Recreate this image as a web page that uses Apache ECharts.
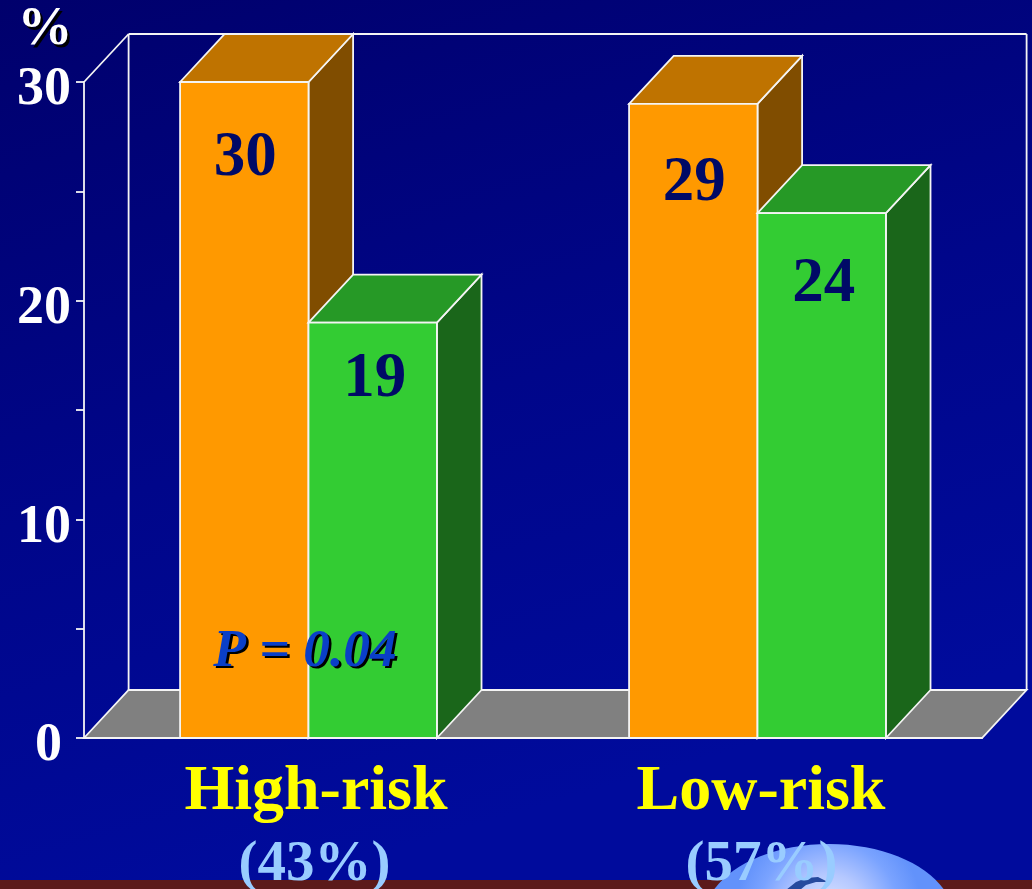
<!DOCTYPE html>
<html>
<head>
<meta charset="utf-8">
<style>html,body{margin:0;padding:0;background:#000a96}#c{width:1032px;height:889px}</style>
<script src="https://cdn.jsdelivr.net/npm/echarts@6/dist/echarts.min.js"></script>
</head>
<body>
<div id="c"></div>
<script>
// Event rates by risk group
const categories = ['High-risk', 'Low-risk'];
const groupShares = ['(43%)', '(57%)'];
const orangeValues = [30, 29];
const greenValues = [19, 24];
const pValueText = 'P = 0.04';
const unitText = '%';

// Look of the extruded columns
const DEPTH_X = 44.6, DEPTH_Y = 48, BAR_SHARE = 0.286;
const SERIF = '"Liberation Serif","Times New Roman",serif';
const EDGE = '#f4f4f4';
const EDGE_W = 1.8;
const NAVY = '#000a66';

function poly(points, fill) {
  return { type: 'polygon', shape: { points }, style: { fill, stroke: EDGE, lineWidth: EDGE_W } };
}

// Builds a renderItem for one column series: side offset -1 or 0 from the band centre.
function columnRenderer(side, front, top, flank, labelDrops, labelShift) {
  return function (params, api) {
    const i = api.value(0);
    const v = api.value(1);
    const [cx, y1] = api.coord([i, v]);
    const [, y0] = api.coord([i, 0]);
    const w = api.size([1, 0])[0] * BAR_SHARE;
    const x0 = cx + side * w;
    const x1 = x0 + w;
    return {
      type: 'group',
      children: [
        poly([[x1, y0], [x1 + DEPTH_X, y0 - DEPTH_Y], [x1 + DEPTH_X, y1 - DEPTH_Y], [x1, y1]], flank),
        poly([[x0, y1], [x0 + DEPTH_X, y1 - DEPTH_Y], [x1 + DEPTH_X, y1 - DEPTH_Y], [x1, y1]], top),
        poly([[x0, y0], [x0, y1], [x1, y1], [x1, y0]], front),
        {
          type: 'text',
          style: {
            x: x0 + w / 2 + labelShift,
            y: y1 + labelDrops[i],
            text: String(v),
            fill: NAVY,
            font: 'bold 63px ' + SERIF,
            align: 'center',
            verticalAlign: 'middle'
          }
        }
      ]
    };
  };
}

// Back wall and floor of the plot box, taken from the grid rectangle.
function renderBox(params) {
  const r = params.coordSys;
  const L = r.x, R = r.x + r.width, T = r.y, B = r.y + r.height;
  const line = (x1, y1, x2, y2) => ({
    type: 'line', shape: { x1, y1, x2, y2 }, style: { stroke: EDGE, lineWidth: EDGE_W }
  });
  return {
    type: 'group',
    children: [
      { type: 'polygon',
        shape: { points: [[L, B], [L + DEPTH_X, B - DEPTH_Y], [R + DEPTH_X, B - DEPTH_Y], [R, B]] },
        style: { fill: '#808080', stroke: EDGE, lineWidth: EDGE_W } },
      line(L + DEPTH_X, T - DEPTH_Y, R + DEPTH_X, T - DEPTH_Y),
      line(L + DEPTH_X, T - DEPTH_Y, L + DEPTH_X, B - DEPTH_Y),
      line(R + DEPTH_X, T - DEPTH_Y, R + DEPTH_X, B - DEPTH_Y),
      line(L, T, L + DEPTH_X, T - DEPTH_Y)
    ]
  };
}

// Text with a hard offset drop shadow, as two stacked elements.
function shadowedText(text, x, y, font, fill) {
  const base = { text, font, align: 'center', verticalAlign: 'middle' };
  return [
    { type: 'text', z: 100, x: x + 2.5, y: y + 2.5, style: Object.assign({ fill: '#000000' }, base) },
    { type: 'text', z: 101, x, y, style: Object.assign({ fill }, base) }
  ];
}

const labelFont = { fontFamily: SERIF, fontWeight: 'bold', lineHeight: 73 };
const chart = echarts.init(document.getElementById('c'), null, { renderer: 'canvas' });

chart.setOption({
  animation: false,
  backgroundColor: {
    type: 'linear', x: 0, y: 0, x2: 0.25, y2: 1,
    colorStops: [{ offset: 0, color: '#00006c' }, { offset: 0.55, color: '#00068a' }, { offset: 1, color: '#000b9c' }]
  },
  grid: { left: 84, top: 82, width: 898, height: 656, containLabel: false, outerBoundsMode: 'none' },
  xAxis: {
    type: 'category',
    data: categories,
    z: 20,
    axisLine: { lineStyle: { color: EDGE, width: EDGE_W } },
    axisTick: { length: 11, lineStyle: { color: EDGE, width: EDGE_W } },
    axisLabel: {
      margin: 18,
      interval: 0,
      formatter: (value, idx) => '{name' + idx + '|' + value + '}\n{share' + idx + '|' + groupShares[idx] + '}',
      rich: {
        name0: Object.assign({ fontSize: 64, color: '#ffff00', padding: [0, 0, 0, 15] }, labelFont),
        share0: Object.assign({ fontSize: 57, color: '#99ccff', padding: [0, 0, 0, 12] }, labelFont),
        name1: Object.assign({ fontSize: 64, color: '#ffff00', padding: [0, 0, 0, 7] }, labelFont),
        share1: Object.assign({ fontSize: 57, color: '#99ccff', padding: [0, 0, 0, 8] }, labelFont)
      }
    }
  },
  yAxis: {
    type: 'value',
    min: 0,
    max: 30,
    interval: 5,
    z: 20,
    axisLine: { show: true, lineStyle: { color: EDGE, width: EDGE_W } },
    axisTick: { show: true, length: 8, lineStyle: { color: EDGE, width: EDGE_W } },
    splitLine: { show: false },
    axisLabel: {
      margin: 13,
      padding: [17, 0, 0, 0],
      fontFamily: SERIF,
      fontWeight: 'bold',
      fontSize: 54,
      color: '#ffffff',
      formatter: (v) => (v === 0 ? '{zero|0}' : v % 10 === 0 ? String(v) : ''),
      rich: {
        zero: { fontFamily: SERIF, fontWeight: 'bold', fontSize: 54, color: '#ffffff', padding: [0, 9, 0, 0] }
      }
    }
  },
  graphic: [
    { type: 'rect', z: -20, shape: { x: 0, y: 880, width: 1032, height: 9 }, style: { fill: '#5c1a1a' } },
    { type: 'ellipse', z: -10, shape: { cx: 829, cy: 919, rx: 125, ry: 75 },
      style: {
        fill: {
          type: 'radial', x: 0.5, y: 0.45, r: 0.62,
          colorStops: [{ offset: 0, color: '#e0e8ff' }, { offset: 0.4, color: '#b5c8ff' }, { offset: 0.75, color: '#7aa3ff' }, { offset: 1, color: '#6292fb' }]
        }
      } },
    { type: 'polygon', z: -9,
      shape: { points: [[786, 890], [796, 882], [806, 878], [818, 877], [828, 882], [816, 882], [806, 885], [800, 890]] },
      style: { fill: '#264a9e' } }
  ].concat(
    shadowedText(unitText, 45, 30, 'bold 55px ' + SERIF, '#ffffff'),
    shadowedText(pValueText, 305, 652, 'italic bold 53.5px ' + SERIF, '#0a3fc8')
  ),
  series: [
    {
      type: 'custom', z: 1, coordinateSystem: 'cartesian2d', silent: true,
      renderItem: renderBox, data: [[0, 0]], clip: false
    },
    {
      type: 'custom', z: 2, coordinateSystem: 'cartesian2d', silent: true,
      renderItem: columnRenderer(-1, '#ff9900', '#bf7300', '#804d00', [77, 80], 1),
      encode: { x: 0, y: 1 },
      data: orangeValues.map((v, i) => [i, v]), clip: false
    },
    {
      type: 'custom', z: 3, coordinateSystem: 'cartesian2d', silent: true,
      renderItem: columnRenderer(0, '#33cc33', '#269926', '#1a661a', [57, 72], 2),
      encode: { x: 0, y: 1 },
      data: greenValues.map((v, i) => [i, v]), clip: false
    }
  ]
});
</script>
</body>
</html>
